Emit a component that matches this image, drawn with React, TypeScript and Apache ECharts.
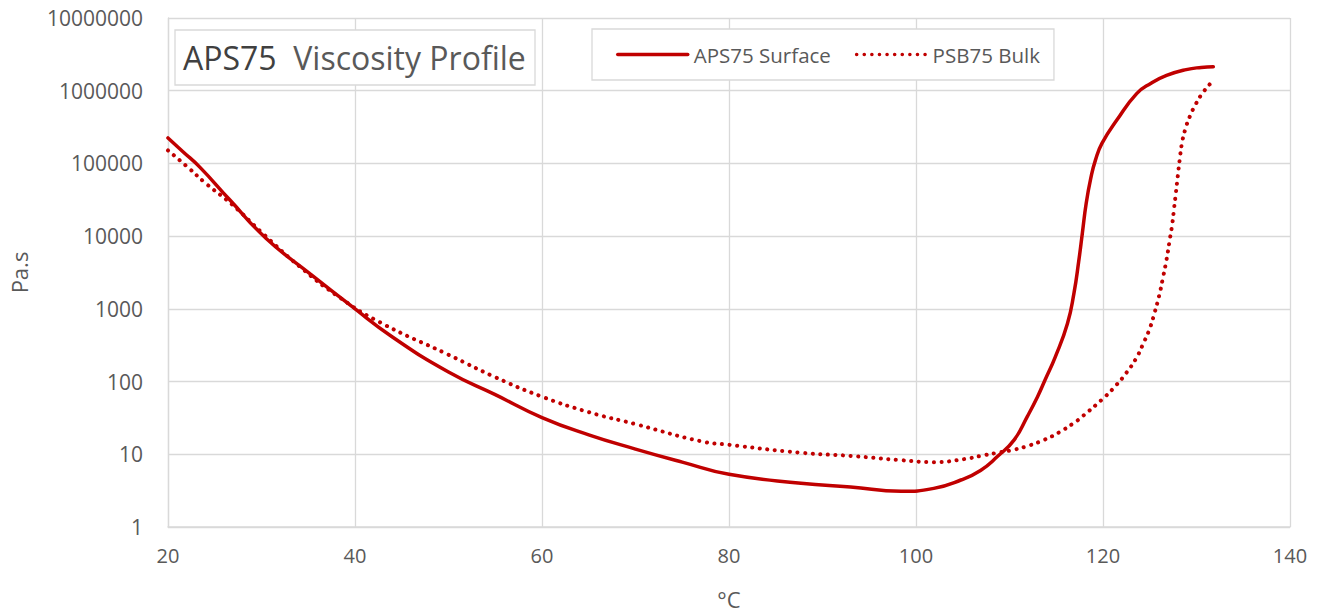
import React, { useEffect, useRef } from "react";
import * as echarts from "echarts";

const surfaceT = [20, 21.6, 23.4, 26.6, 30.5, 35.1, 39.7, 44, 50, 55, 60, 65, 70, 75, 80, 87.7, 93, 98.4, 101.9, 104.8, 106.9, 108.7, 110.5, 111.9, 113, 113.8, 114.9, 116.2, 116.9, 117.4, 117.8, 118.2, 118.7, 119.2, 119.9, 121.5, 123.6, 125.1, 126.8, 128.9, 130.5, 131.8];
const surfaceV = [224000, 145000, 89000, 31600, 9300, 3100, 1070, 410, 135, 66, 32, 18.5, 11.8, 7.8, 5.3, 4.0, 3.55, 3.1, 3.4, 4.43, 6.0, 9.3, 15.8, 33, 62, 105, 219, 630, 1660, 4470, 11200, 28200, 63100, 112000, 190000, 398000, 912000, 1260000, 1620000, 1950000, 2090000, 2140000];

const bulkT = [20, 22.1, 24, 26.9, 30.1, 34.1, 38.3, 42.6, 50, 55, 60, 65, 70, 77, 80, 87.7, 93, 98.4, 101.9, 105.2, 106.9, 108.7, 110.4, 112.1, 113.7, 115.3, 116.9, 117.6, 120.1, 121.4, 122.5, 123.5, 124.3, 125.0, 125.5, 126.0, 126.4, 126.8, 127.1, 127.4, 127.6, 127.8, 128.0, 128.2, 128.45, 128.8, 129.3, 129.9, 130.6, 131.5];
const bulkV = [151000, 89000, 53700, 26900, 11000, 3800, 1450, 660, 234, 115, 62, 38, 26, 15.1, 13.5, 10.5, 9.5, 8.3, 7.8, 8.6, 9.5, 10.5, 11.5, 13.2, 15.8, 20, 27, 31.6, 60, 89, 132, 204, 331, 537, 871, 1510, 2630, 4790, 8320, 14500, 24000, 39800, 67600, 112000, 191000, 295000, 447000, 646000, 912000, 1260000];

const seriesNames = ["APS75 Surface", "PSB75 Bulk"];
const titleBold = "APS75";
const titleRest = "Viscosity Profile";
const xTitle = "°C";
const yTitle = "Pa.s";

const FONT = "'Open Sans', 'Noto Sans', sans-serif";
const RED = "#c00000";
const GRID = "#d9d9d9";
const TXT = "#595959";

export default function App() {
  const ref = useRef<HTMLDivElement>(null);
  useEffect(() => {
    if (!ref.current) return;
    const chart = echarts.init(ref.current, undefined, { renderer: "svg" });
    chart.setOption({
      animation: false,
      backgroundColor: "#ffffff",
      textStyle: { fontFamily: FONT },
      grid: { left: 165, right: 31, top: 18, bottom: 88, containLabel: false },
      xAxis: {
        type: "value",
        min: 20,
        max: 140,
        interval: 20,
        name: xTitle,
        nameLocation: "middle",
        nameGap: 61,
        nameTextStyle: { fontFamily: FONT, fontSize: 22, color: TXT },
        axisLine: { show: true, lineStyle: { color: GRID, width: 1.5 } },
        axisTick: { show: false },
        axisLabel: { fontFamily: FONT, fontSize: 20, color: TXT, margin: 18 },
        splitLine: { show: true, lineStyle: { color: GRID, width: 1.3 } },
      },
      yAxis: {
        type: "log",
        logBase: 10,
        min: 1,
        max: 10000000,
        name: yTitle,
        nameLocation: "middle",
        nameGap: 138,
        nameRotate: 90,
        nameTextStyle: { fontFamily: FONT, fontSize: 22, color: TXT },
        axisLine: { show: true, lineStyle: { color: GRID, width: 1.3 } },
        axisTick: { show: false },
        axisLabel: {
          fontFamily: FONT,
          fontSize: 21,
          color: TXT,
          margin: 25,
          formatter: (v: number) => String(Math.round(v)),
        },
        splitLine: { show: true, lineStyle: { color: GRID, width: 1.3 } },
      },
      legend: {
        left: 592,
        top: 29,
        padding: [15, 14, 15, 24],
        itemGap: 24,
        itemWidth: 70,
        itemHeight: 14,
        backgroundColor: "#ffffff",
        borderColor: GRID,
        borderWidth: 1.3,
        itemStyle: { opacity: 0 },
        textStyle: { fontFamily: FONT, fontSize: 20.5, color: TXT, padding: [0, 0, 0, 1] },
        data: [
          { name: seriesNames[0], lineStyle: { color: RED, width: 3.5, type: "solid" } },
          { name: seriesNames[1], lineStyle: { color: RED, width: 3.5, type: [0.1, 7.5], cap: "round" } },
        ],
      },
      graphic: [
        {
          type: "rect",
          shape: { x: 175, y: 30, width: 360, height: 55 },
          style: { fill: "#ffffff", stroke: GRID, lineWidth: 1.3 },
          z: 100,
        },
        {
          type: "text",
          x: 183,
          y: 57,
          z: 101,
          style: {
            text: `{a|${titleBold}}{b|  ${titleRest}}`,
            verticalAlign: "middle",
            rich: {
              a: { fontFamily: FONT, fontSize: 32, fill: "#404040", fontWeight: 500 },
              b: { fontFamily: FONT, fontSize: 32, fill: TXT },
            },
          },
        },
      ],
      series: [
        {
          name: seriesNames[0],
          type: "line",
          smooth: 0.5,
          showSymbol: false,
          symbol: "none",
          data: surfaceT.map((t, i) => [t, surfaceV[i]]),
          lineStyle: { color: RED, width: 3.5, cap: "round" },
          itemStyle: { color: RED },
          z: 3,
        },
        {
          name: seriesNames[1],
          type: "line",
          smooth: 0.5,
          showSymbol: false,
          symbol: "none",
          data: bulkT.map((t, i) => [t, bulkV[i]]),
          lineStyle: { color: RED, width: 4, type: [0.1, 7.5], cap: "round" },
          itemStyle: { color: RED },
          z: 3,
        },
      ],
    });
    return () => chart.dispose();
  }, []);
  return <div ref={ref} style={{ width: 1321, height: 615, position: "absolute", left: 0, top: 0 }} />;
}
